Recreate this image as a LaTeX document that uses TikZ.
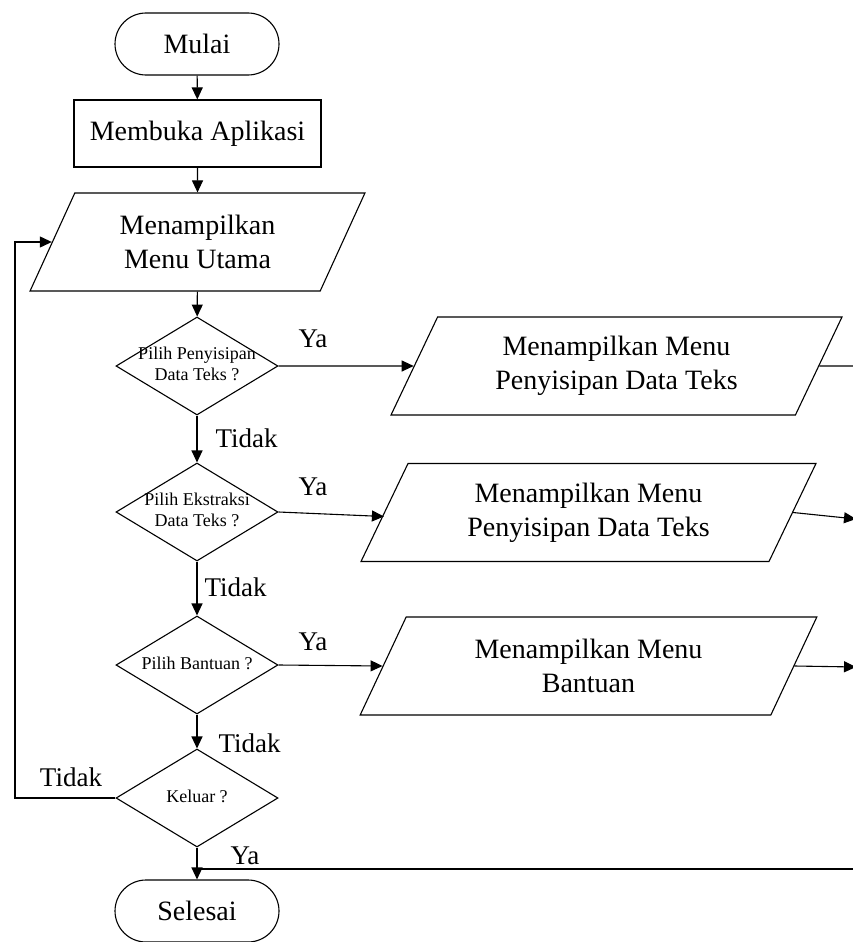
\documentclass[tikz,border=0pt]{standalone}
\usepackage{fontspec}
\setmainfont{Liberation Serif}
\usetikzlibrary{shapes.geometric,shapes.misc,arrows.meta}

% small text inside the decisions, kept out of the shape size
\newcommand{\dtext}[1]{\makebox[0pt]{\fontsize{18}{21}\selectfont\begin{tabular}{@{}c@{}}#1\end{tabular}}}

\begin{document}
\begin{tikzpicture}[x=1pt, y=-1pt, line width=1.1pt,
  terminal/.style={rounded rectangle, draw, minimum width=164pt, minimum height=62pt, inner sep=0pt, font=\fontsize{28}{34}\selectfont},
  proses/.style={rectangle, draw, minimum width=247pt, minimum height=67pt, inner sep=0pt, font=\fontsize{28}{34}\selectfont},
  io/.style={trapezium, draw, trapezium left angle=63.9, trapezium right angle=116.1, trapezium stretches=true, minimum height=98pt, align=center, font=\fontsize{28}{34}\selectfont},
  keputusan/.style={diamond, draw, minimum width=162pt, minimum height=98pt, inner sep=0pt},
  ket/.style={inner sep=0pt, font=\fontsize{27}{32}\selectfont},
  panah/.style={-{Triangle[length=12pt,width=11pt]}}
]
  \useasboundingbox (0,0) rectangle (853,942);

  % main column
  \node[terminal] (mulai) at (197,44) {Mulai};
  \node[proses] (buka) at (197.5,133.5) {Membuka Aplikasi};
  \node[io, minimum width=335pt] (utama) at (197.5,242) {Menampilkan\\Menu Utama};

  \node[keputusan] (d1) at (197,366) {\dtext{Pilih Penyisipan\\Data Teks ?}};
  \node[keputusan] (d2) at (197,512) {\dtext{Pilih Ekstraksi\\Data Teks ?}};
  \node[keputusan] (d3) at (197,665) {\dtext{Pilih Bantuan ?}};
  \node[keputusan] (d4) at (197,798) {\dtext{Keluar ?}};
  \node[terminal] (selesai) at (197,911) {Selesai};

  % menus on the right
  \node[io, minimum width=453pt] (p1) at (616.5,366) {Menampilkan Menu\\Penyisipan Data Teks};
  \node[io, minimum width=457pt] (p2) at (588.5,512.5) {Menampilkan Menu\\Penyisipan Data Teks};
  \node[io, minimum width=457pt] (p3) at (588.5,666) {Menampilkan Menu\\Bantuan};

  % free ends past the right edge
  \coordinate (o1) at (870,366);
  \coordinate (o2) at (856,519);
  \coordinate (o3) at (856,667);
  \coordinate (o4) at (870,869);
  \coordinate (kiri) at (15,0);

  \draw[panah] (mulai) -- (buka);
  \draw[panah] (buka) -- (utama);
  \draw[panah] (utama) -- (d1);
  \draw[panah] (d1) -- (d2);
  \draw[panah] (d2) -- (d3);
  \draw[panah] (d3) -- (d4);
  \draw[panah] (d4) -- (selesai);

  \draw[panah] (d1.east) -- (p1.west);
  \draw[panah] (d2.east) -- ([yshift=-4pt]p2.west);
  \draw[panah] (d3.east) -- (p3.west);

  \draw[panah] (p1.east) -- (o1);
  \draw[panah] (p2.east) -- (o2);
  \draw[panah] (p3.east) -- (o3);
  \draw (o4) -- (o4 -| selesai.north);

  % back to the main menu
  \draw[panah] (d4.west) -- (d4.west -| kiri) |- (utama.west);

  % labels
  \node[ket, anchor=west] (ya1) at (298,339) {Ya};
  \node[ket, anchor=west] (ya2) at (298,487) {Ya};
  \node[ket, anchor=west] (ya3) at (298,642) {Ya};
  \node[ket, anchor=west] (ya4) at (230,856) {Ya};
  \node[ket, anchor=west] (tidak1) at (215,438) {Tidak};
  \node[ket, anchor=west] (tidak2) at (204,587) {Tidak};
  \node[ket, anchor=west] (tidak3) at (218,743) {Tidak};
  \node[ket] (tidak4) at (71,777) {Tidak};

\end{tikzpicture}
\end{document}
